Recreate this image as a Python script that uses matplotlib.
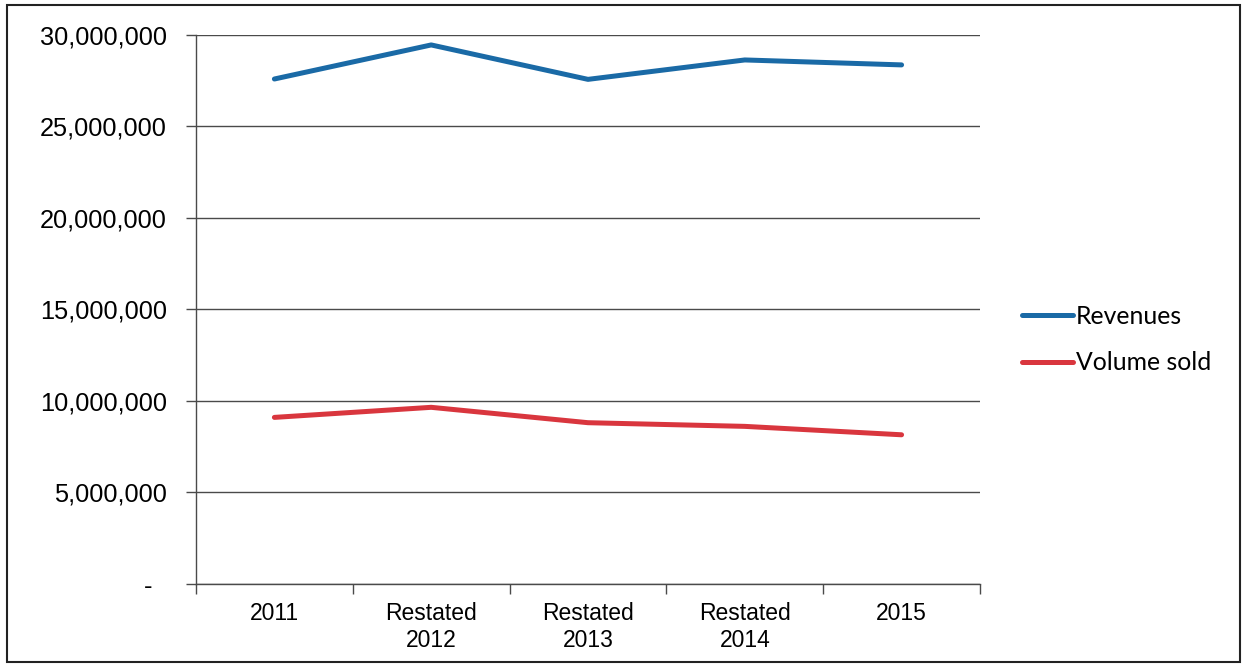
import matplotlib.pyplot as plt
from matplotlib.patches import Rectangle
from matplotlib.ticker import FixedLocator, FuncFormatter

years = ["2011", "Restated\n2012", "Restated\n2013", "Restated\n2014", "2015"]
revenues = [27580000, 29440000, 27560000, 28620000, 28350000]
volume_sold = [9100000, 9650000, 8810000, 8610000, 8150000]

blue = "#1a6aa6"
red = "#d9363e"

fig = plt.figure(figsize=(12.46, 6.67), dpi=100)
ax = fig.add_axes([0.1573, 0.1244, 0.6292, 0.8236])

x = list(range(len(years)))
ax.plot(x, revenues, color=blue, lw=3.6, solid_capstyle="round", label="Revenues")
ax.plot(x, volume_sold, color=red, lw=3.6, solid_capstyle="round", label="Volume sold")

ax.set_xlim(-0.5, len(years) - 0.5)
ax.set_ylim(0, 30000000)
ax.set_yticks(range(0, 30000001, 5000000))

def fmt(v, pos):
    if v == 0:
        return "-  "
    return "{:,.0f}".format(v)

ax.yaxis.set_major_formatter(FuncFormatter(fmt))
ax.grid(axis="y", color="#4a4a4a", lw=1.0)
ax.set_axisbelow(True)

ax.set_xticks(x)
ax.set_xticklabels(years, fontsize=16.5, family="Liberation Sans")
ax.xaxis.set_minor_locator(FixedLocator([i - 0.5 for i in range(len(years) + 1)]))
ax.tick_params(axis="x", which="major", length=0, pad=13)
ax.tick_params(axis="x", which="minor", length=7, width=1, color="#4a4a4a", direction="out")
ax.tick_params(axis="y", length=7, width=1, color="#4a4a4a", pad=14)
for lab in ax.get_yticklabels():
    lab.set_fontsize(18.3)
    lab.set_family("Liberation Sans")

for side in ["top", "right"]:
    ax.spines[side].set_visible(False)
for side in ["left", "bottom"]:
    ax.spines[side].set_color("#4a4a4a")
    ax.spines[side].set_linewidth(1.0)

leg = fig.legend(loc="center left", bbox_to_anchor=(0.802, 0.491), frameon=False,
                 prop={"family": "Lato", "size": 17.8}, handlelength=2.1,
                 handletextpad=0.1, labelspacing=0.95)

fig.patches.append(Rectangle((7 / 1246, 5 / 667), 1233 / 1246, 657 / 667,
                             transform=fig.transFigure, fill=False,
                             edgecolor="#222222", lw=1.5))

fig.savefig("out.png", dpi=100)
